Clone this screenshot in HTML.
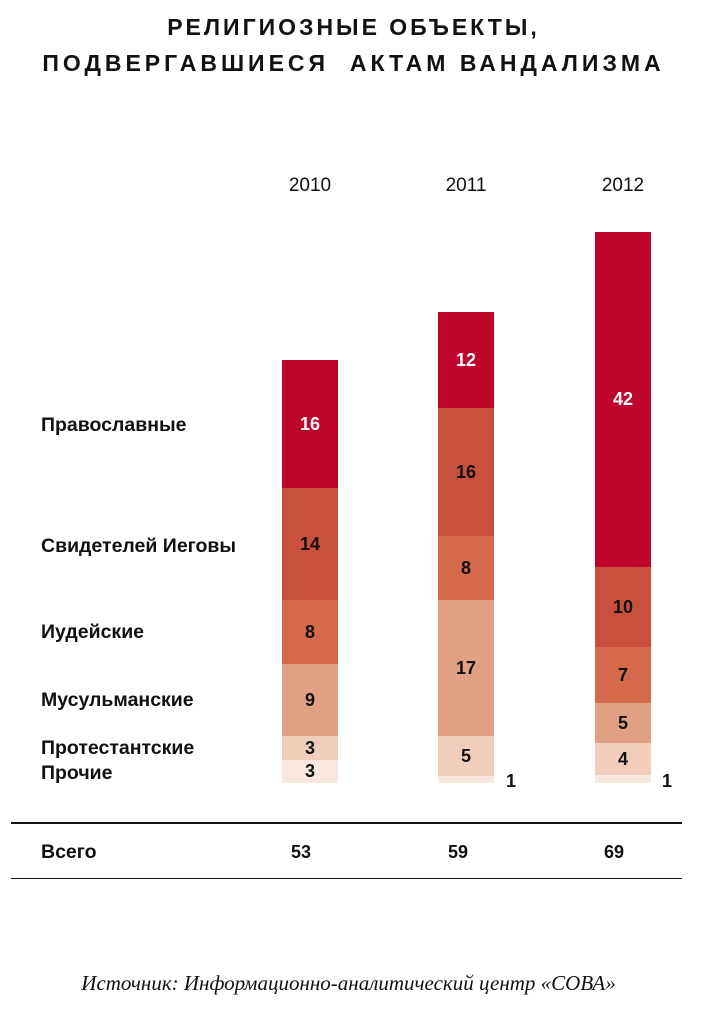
<!DOCTYPE html>
<html><head><meta charset="utf-8"><style>
body{margin:0;width:707px;height:1024px;background:#fff;position:relative;font-family:"Liberation Sans","DejaVu Sans",sans-serif;color:#111;overflow:hidden}
.t{position:absolute;left:0;width:707px;text-align:center;font-weight:bold;font-size:23px;letter-spacing:3px}
.y{position:absolute;font-size:19px;width:80px;text-align:center}
.b{position:absolute;width:56px;display:flex;align-items:center;justify-content:center;font-weight:bold;font-size:18px}
.l{position:absolute;left:41px;font-weight:bold;font-size:19.5px}
.n{position:absolute;font-weight:bold;font-size:18px}
</style></head><body>
<div class="t" style="top:14px">РЕЛИГИОЗНЫЕ ОБЪЕКТЫ,</div>
<div class="t" style="top:50px;letter-spacing:4px">ПОДВЕРГАВШИЕСЯ&nbsp; АКТАМ ВАНДАЛИЗМА</div>
<div class="y" style="left:270px;top:175px">2010</div>
<div class="y" style="left:426px;top:175px">2011</div>
<div class="y" style="left:583px;top:175px">2012</div>

<div class="b" style="left:282px;top:360px;height:128px;background:#c0052a;color:#fff">16</div>
<div class="b" style="left:282px;top:488px;height:112px;background:#c9503c">14</div>
<div class="b" style="left:282px;top:600px;height:64px;background:#d4694c">8</div>
<div class="b" style="left:282px;top:664px;height:72px;background:#e0a083">9</div>
<div class="b" style="left:282px;top:736px;height:24px;background:#f2cdb9">3</div>
<div class="b" style="left:282px;top:760px;height:23px;background:#f9e8e0">3</div>

<div class="b" style="left:438px;top:312px;height:96px;background:#c0052a;color:#fff">12</div>
<div class="b" style="left:438px;top:408px;height:128px;background:#c9503c">16</div>
<div class="b" style="left:438px;top:536px;height:64px;background:#d4694c">8</div>
<div class="b" style="left:438px;top:600px;height:136px;background:#e0a083">17</div>
<div class="b" style="left:438px;top:736px;height:40px;background:#f2cdb9">5</div>
<div class="b" style="left:438px;top:776px;height:7px;background:#f9e8e0"></div>
<div class="n" style="left:506px;top:771px">1</div>

<div class="b" style="left:595px;top:232px;height:335px;background:#c0052a;color:#fff">42</div>
<div class="b" style="left:595px;top:567px;height:80px;background:#c9503c">10</div>
<div class="b" style="left:595px;top:647px;height:56px;background:#d4694c">7</div>
<div class="b" style="left:595px;top:703px;height:40px;background:#e0a083">5</div>
<div class="b" style="left:595px;top:743px;height:32px;background:#f2cdb9">4</div>
<div class="b" style="left:595px;top:775px;height:8px;background:#f9e8e0"></div>
<div class="n" style="left:662px;top:771px">1</div>

<div class="l" style="top:414px">Православные</div>
<div class="l" style="top:535px">Свидетелей Иеговы</div>
<div class="l" style="top:621px">Иудейские</div>
<div class="l" style="top:689px">Мусульманские</div>
<div class="l" style="top:737px">Протестантские</div>
<div class="l" style="top:762px">Прочие</div>

<div style="position:absolute;left:11px;width:671px;top:822px;height:2px;background:#111"></div>
<div class="l" style="top:841px">Всего</div>
<div class="n" style="left:291px;top:842px">53</div>
<div class="n" style="left:448px;top:842px">59</div>
<div class="n" style="left:604px;top:842px">69</div>
<div style="position:absolute;left:11px;width:671px;top:878px;height:1px;background:#111"></div>

<div style="position:absolute;left:0;width:697px;top:971px;text-align:center;font-family:'Liberation Serif',serif;font-style:italic;font-size:21px">Источник: Информационно-аналитический центр «СОВА»</div>
</body></html>
